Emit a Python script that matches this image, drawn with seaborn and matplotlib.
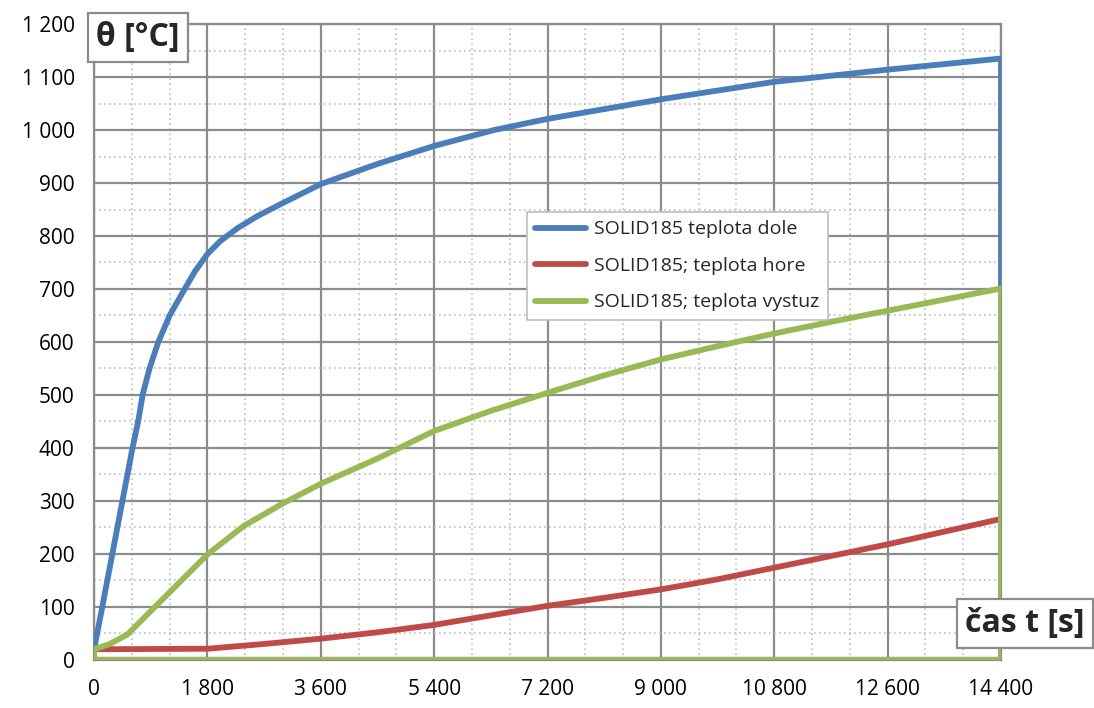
import pandas as pd
import seaborn as sns
import matplotlib.pyplot as plt
from matplotlib.ticker import MultipleLocator, FuncFormatter

# --- data (time in s, temperature in degC) ---
# each series closes back along zero like in the original export
t_dole = [0, 130, 290, 450, 610, 700, 770, 880, 1020, 1200, 1400, 1600, 1800,
          2000, 2280, 2600, 2960, 3600, 4500, 5400, 6350, 7200, 9000, 10800,
          12600, 14400, 14400, 0]
theta_dole = [20, 100, 200, 300, 400, 450, 500, 550, 600, 650, 692, 733, 766,
              790, 815, 838, 860, 898, 936, 970, 1000, 1021, 1058, 1091,
              1114, 1135, 0, 0]

t_hore = [0, 1800, 2100, 2700, 3600, 4500, 5400, 6300, 7200, 8100, 9000, 9900,
          10800, 11700, 12600, 13500, 14400, 14400, 0]
theta_hore = [20, 21, 24, 30, 40, 52, 66, 84, 102, 117, 133, 152, 174, 196, 218,
              242, 266, 0, 0]

t_vystuz = [0, 250, 530, 1060, 1810, 2380, 3010, 3610, 4500, 5400, 6300, 7200,
            8100, 9000, 9900, 10800, 11700, 12600, 13500, 14400, 14400, 0, 0]
theta_vystuz = [20, 30, 48, 111, 200, 253, 296, 333, 380, 432, 470, 504, 537,
                567, 592, 616, 638, 659, 680, 701, 0, 0, 20]

labels = ["SOLID185 teplota dole", "SOLID185; teplota hore", "SOLID185; teplota vystuz"]
colors = ["#4a7ebb", "#be4b48", "#98b954"]

df = pd.concat([
    pd.DataFrame({"t": t_dole, "theta": theta_dole, "series": labels[0]}),
    pd.DataFrame({"t": t_hore, "theta": theta_hore, "series": labels[1]}),
    pd.DataFrame({"t": t_vystuz, "theta": theta_vystuz, "series": labels[2]}),
], ignore_index=True)

sns.set_theme(style="white")
plt.rcParams['font.family'] = ['Open Sans', 'DejaVu Sans']

fig, ax = plt.subplots(figsize=(10.94, 7.08), dpi=100)
fig.subplots_adjust(left=0.086, right=0.915, top=0.966, bottom=0.068)

sns.lineplot(data=df, x="t", y="theta", hue="series", palette=colors,
             sort=False, estimator=None, linewidth=4.2, ax=ax, zorder=3)

ax.set_xlim(0, 14400)
ax.set_ylim(0, 1200)
ax.xaxis.set_major_locator(MultipleLocator(1800))
ax.xaxis.set_minor_locator(MultipleLocator(600))
ax.yaxis.set_major_locator(MultipleLocator(100))
ax.yaxis.set_minor_locator(MultipleLocator(50))
fmt = FuncFormatter(lambda v, p: f"{int(v):,}".replace(",", " "))
ax.xaxis.set_major_formatter(fmt)
ax.yaxis.set_major_formatter(fmt)
ax.grid(which="major", color="#8c8c8c", linewidth=1.6, linestyle="-")
ax.grid(which="minor", color="#bdbdbd", linewidth=1.2, linestyle=(0, (1, 2)))
ax.set_axisbelow(True)
ax.tick_params(axis="both", which="both", length=0, labelsize=15, colors="black")
ax.tick_params(axis="x", pad=14)
ax.tick_params(axis="y", pad=14)
for s in ax.spines.values():
    s.set_color("#8c8c8c")
    s.set_linewidth(1.6)
ax.set_xlabel("")
ax.set_ylabel("")

leg = ax.legend(loc="upper left", bbox_to_anchor=(0.477, 0.705), borderaxespad=0,
                fontsize=14, frameon=True, fancybox=False, edgecolor="#bfbfbf",
                framealpha=1, handlelength=2.6, borderpad=0.45, labelspacing=0.95,
                handletextpad=0.4)
leg.get_frame().set_linewidth(1.2)
for h in leg.get_lines():
    h.set_linewidth(4.2)

# axis titles in boxes like the original
fig.text(0.126, 0.947, "θ [°C]", fontsize=23, fontweight="bold", ha="center", va="center",
         bbox=dict(boxstyle="square,pad=0.25", fc="white", ec="#8c8c8c", lw=1.6))
fig.text(0.937, 0.12, "čas t [s]", fontsize=23, fontweight="bold", ha="center", va="center",
         bbox=dict(boxstyle="square,pad=0.25", fc="white", ec="#8c8c8c", lw=1.6))

plt.savefig("out.png", dpi=100)
